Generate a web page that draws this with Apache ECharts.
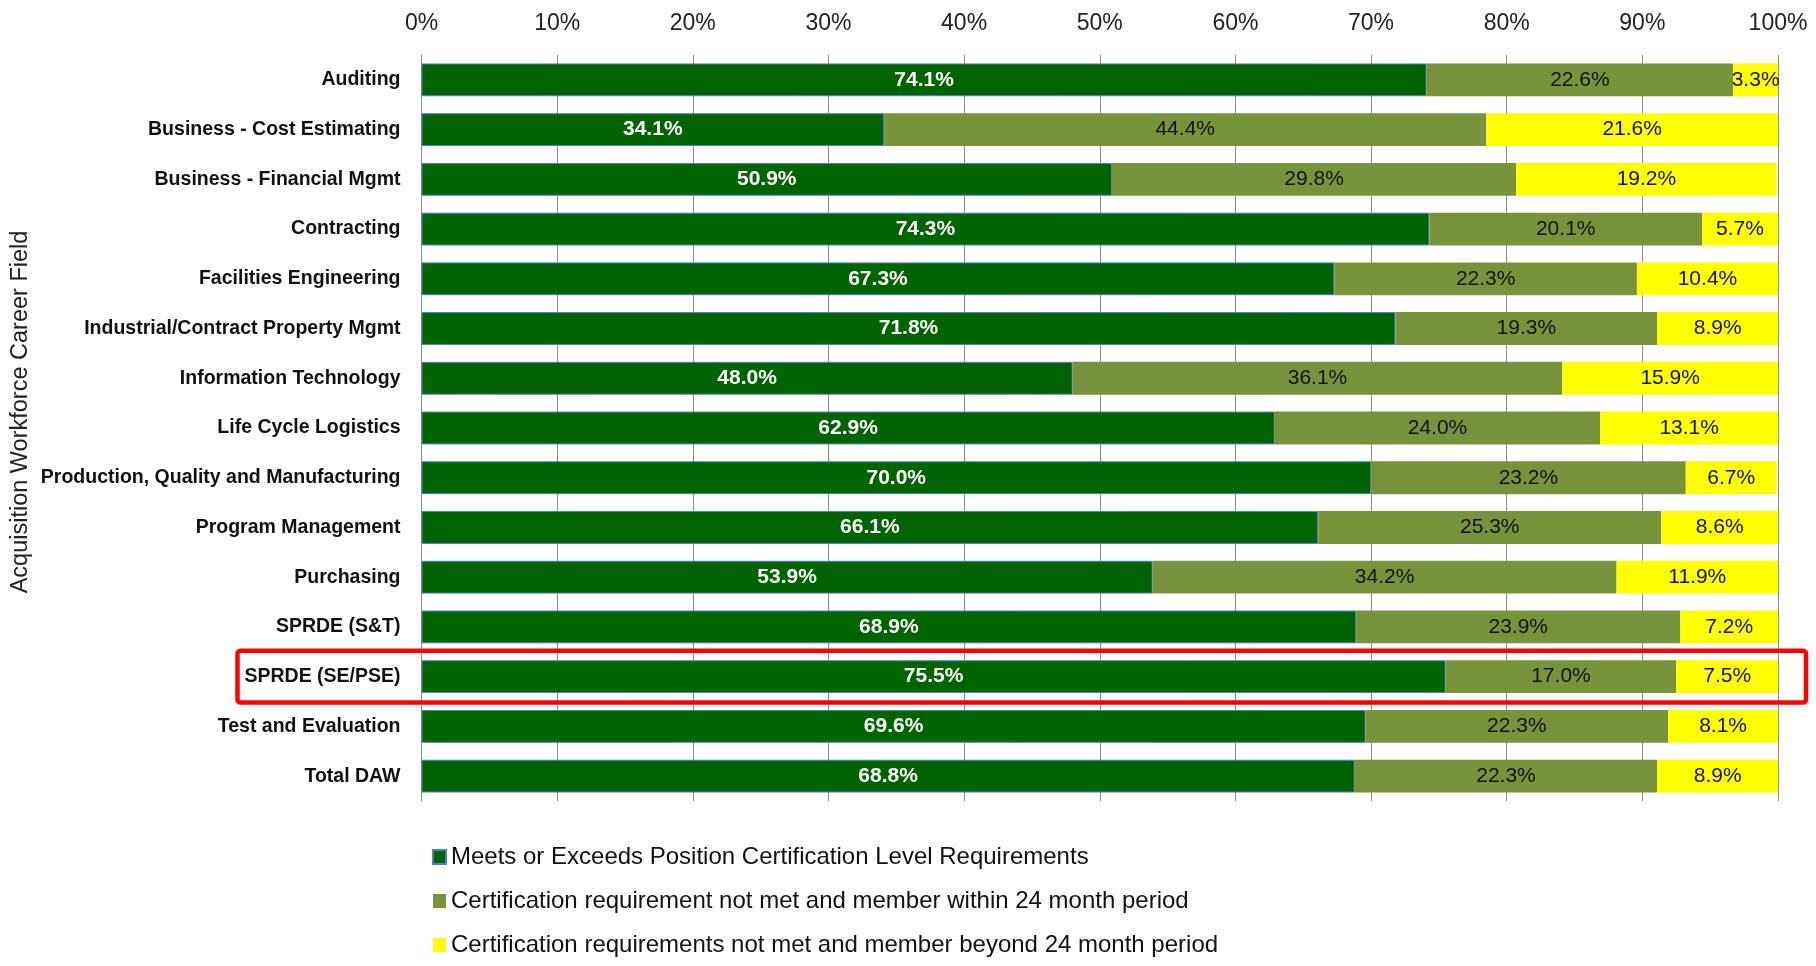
<!DOCTYPE html>
<html><head><meta charset="utf-8">
<script src="https://cdn.jsdelivr.net/npm/echarts@6/dist/echarts.min.js"></script>
<style>html,body{margin:0;padding:0;background:#fff;}#c{width:1816px;height:966px;}</style>
</head><body><div id="c"></div>
<script>
const categories = ["Auditing","Business - Cost Estimating","Business - Financial Mgmt","Contracting","Facilities Engineering","Industrial/Contract Property Mgmt","Information Technology","Life Cycle Logistics","Production, Quality and Manufacturing","Program Management","Purchasing","SPRDE (S&T)","SPRDE (SE/PSE)","Test and Evaluation","Total DAW"];
const meets = [74.1,34.1,50.9,74.3,67.3,71.8,48.0,62.9,70.0,66.1,53.9,68.9,75.5,69.6,68.8];
const within24 = [22.6,44.4,29.8,20.1,22.3,19.3,36.1,24.0,23.2,25.3,34.2,23.9,17.0,22.3,22.3];
const beyond24 = [3.3,21.6,19.2,5.7,10.4,8.9,15.9,13.1,6.7,8.6,11.9,7.2,7.5,8.1,8.9];
const seriesNames = ["Meets or Exceeds Position Certification Level Requirements","Certification requirement not met and member within 24 month period","Certification requirements not met and member beyond 24 month period"];
const axisTitle = "Acquisition Workforce Career Field";
const highlighted = "SPRDE (SE/PSE)";
const FONT = '"Liberation Sans Narrow","Liberation Sans",sans-serif';

const chart = echarts.init(document.getElementById('c'), null, {renderer:'canvas'});
const lbl = (color, bold) => ({show:true, position:'inside', color:color, fontFamily:FONT, fontSize:21, fontWeight:bold?'bold':'normal', formatter: p => p.value.toFixed(1)+'%'});
chart.setOption({
  animation:false,
  textStyle:{fontFamily:FONT},
  grid:{left:421.5, right:38, top:55, height:746, containLabel:false, outerBoundsMode:'none'},
  xAxis:{type:'value', position:'top', min:0, max:100, interval:10,
    axisLabel:{formatter:'{value}%', fontSize:23, color:'#222', fontFamily:FONT, margin:20},
    axisLine:{show:false}, axisTick:{show:false},
    splitLine:{lineStyle:{color:'#8c8c8c', width:1}}},
  yAxis:{type:'category', data:categories, inverse:true,
    axisLabel:{fontSize:19.5, fontWeight:'bold', color:'#111', fontFamily:FONT, margin:21},
    axisLine:{lineStyle:{color:'#8c8c8c'}}, axisTick:{show:false}},
  legend:{orient:'vertical', left:427, top:840, itemGap:20, itemWidth:13, itemHeight:14, icon:'rect',
    textStyle:{fontSize:24, color:'#111', fontFamily:FONT}, data:seriesNames, selectedMode:false},
  series:[
    {name:seriesNames[0], type:'bar', stack:'s', data:meets, barCategoryGap:'34%',
      itemStyle:{color:'#006400', borderColor:'#4f81bd', borderWidth:1}, label:lbl('#fff', true)},
    {name:seriesNames[1], type:'bar', stack:'s', data:within24,
      itemStyle:{color:'#77933c'}, label:lbl('#111', false)},
    {name:seriesNames[2], type:'bar', stack:'s', data:beyond24,
      itemStyle:{color:'#ffff00'}, label:lbl('#111', false)}
  ]
});
// red highlight box around the highlighted category row, and the rotated axis title
const cy = chart.convertToPixel({yAxisIndex:0}, highlighted);
const c0 = chart.convertToPixel({yAxisIndex:0}, categories[0]);
const c1 = chart.convertToPixel({yAxisIndex:0}, categories[1]);
const band = c1 - c0;
const x100 = chart.convertToPixel({xAxisIndex:0}, 100);
const x0 = chart.convertToPixel({xAxisIndex:0}, 0);
chart.setOption({graphic:[
  {type:'rect', shape:{x:x0-184, y:cy-band/2-1, width:(x100-x0)+184+28, height:band+2, r:3},
    style:{fill:'none', stroke:'#ff0000', lineWidth:4.5}, z:100},
  {type:'text', x:21, y:412, rotation:Math.PI/2,
    style:{text:axisTitle, fontSize:23.5, fill:'#222', fontFamily:FONT, align:'center', verticalAlign:'middle'}}
]});
</script></body></html>
